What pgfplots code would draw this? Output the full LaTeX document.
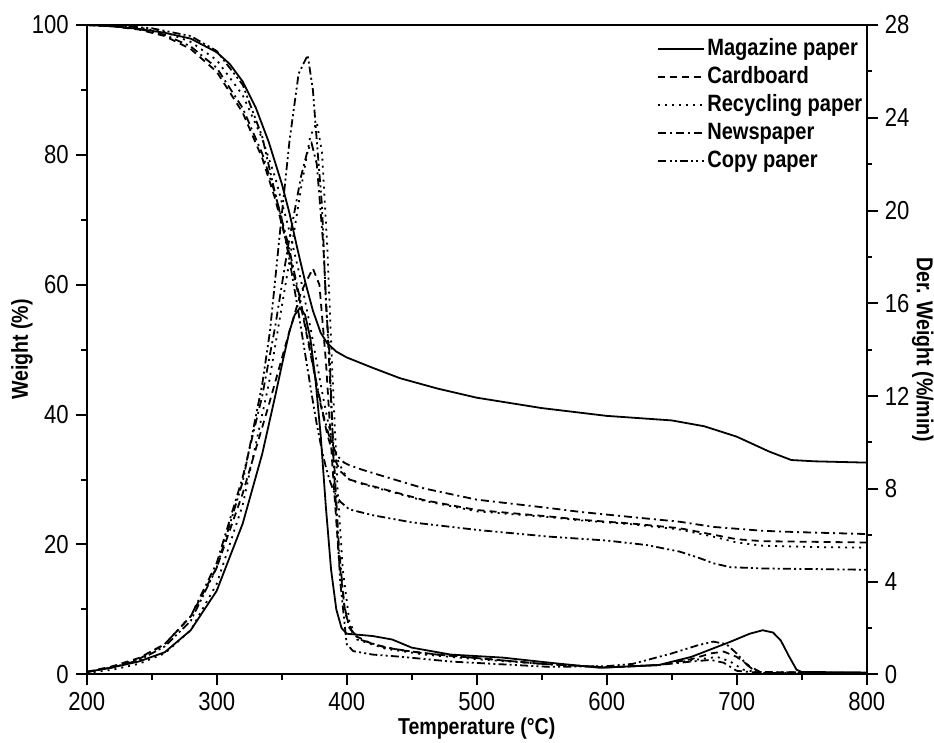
\documentclass[border=0pt]{standalone}
\usepackage{fontspec}
\setmainfont[FakeStretch=0.85]{Liberation Sans}
\usepackage{pgfplots}
\pgfplotsset{compat=1.18}
\begin{document}
\begin{tikzpicture}
\pgfplotsset{
  every axis/.append style={
    scale only axis, width=390pt, height=324.65pt,
    xmin=200, xmax=800,
    axis line style={line width=1pt},
    every tick/.style={line width=1pt, black},
    major tick length=5.5pt, minor tick length=2.75pt,
    tick align=outside,
    /pgf/number format/assume math mode=true,
    tick label style={font=\fontsize{13}{13}\selectfont},
    label style={font=\bfseries\fontsize{11.5}{13}\selectfont},
  },
  every axis plot/.append style={line width=0.9pt, black},
  ds/.style={dash pattern=on 3.5pt off 2.5pt},
  dt/.style={dash pattern=on 1pt off 2.5pt},
  dd/.style={dash pattern=on 4pt off 2pt on 1pt off 2pt},
  ddd/.style={dash pattern=on 4pt off 1.6pt on 1pt off 1.6pt on 1pt off 1.6pt},
}
\begin{axis}[name=ax, ymin=0, ymax=100,
  xtick={200,300,...,800}, minor x tick num=1,
  ytick={0,20,...,100}, minor y tick num=1,
  xtick pos=bottom, ytick pos=left,
  xlabel={Temperature (°C)}, ylabel={Weight (\%)},
  xlabel style={at={(axis description cs:0.5,-0.083)}, anchor=center},
  ylabel style={at={(axis description cs:-0.083,0.5)}, anchor=center},
  legend style={at={(1,1)}, anchor=north east, xshift=2pt, yshift=-3pt, draw=none, fill=none,
    font=\bfseries\fontsize{11.8}{12}\selectfont, row sep=0pt,
    nodes={inner sep=1pt, text height=9pt, text depth=3pt}},
  legend cell align=left,
  legend image code/.code={\draw[#1] (0pt,0pt) -- (23pt,0pt);},
]
% Magazine paper TG
\addplot[solid] coordinates {(200,100) (220,99.8) (240,99.4) (260,98.8) (280,97.9) (300,95.8) (310,94.0) (320,91.3) (330,87.3) (340,82.0) (350,75.6) (356,71) (362,65.6) (368,60.5) (374,56.0) (380,52.6) (385,51.0) (392,49.7) (400,48.8) (420,47.2) (441,45.6) (470,44.0) (500,42.6) (550,41.0) (600,39.8) (650,39.1) (675,38.2) (700,36.6) (725,34.3) (742,33.0) (760,32.8) (800,32.6)};
\addlegendentry{Magazine paper}
% Cardboard TG
\addplot[ds] coordinates {(200,100) (220,99.8) (240,99.3) (260,98.3) (280,96.3) (300,92.8) (320,86.5) (335,79.5) (345,73.2) (355,65.5) (365,56.5) (370,51.5) (375,46.5) (380,41.5) (385,37.0) (390,33.5) (395,31.3) (402,30.0) (412,29.4) (425,28.7) (460,26.8) (500,25.3) (556,24.3) (580,23.8) (620,23.2) (656,22.5) (682,21.5) (700,20.8) (720,20.5) (760,20.4) (800,20.3)};
\addlegendentry{Cardboard}
% Recycling paper TG
\addplot[dt] coordinates {(200,100) (220,99.9) (240,99.6) (260,98.9) (280,97.4) (300,94.6) (320,89.2) (335,82.5) (345,76.5) (355,69.0) (365,60.5) (372,53.5) (377,48.0) (382,42.5) (386,38.5) (390,35.0) (394,32.5) (398,31.0) (402,30.0) (412,29.3) (425,28.6) (460,26.7) (500,25.1) (556,24.2) (580,23.7) (620,23.1) (656,22.3) (682,21.2) (700,20.3) (720,19.8) (760,19.6) (800,19.5)};
\addlegendentry{Recycling paper}
% Newspaper TG
\addplot[dd] coordinates {(200,100) (220,99.8) (240,99.4) (260,98.5) (280,96.7) (300,93.4) (320,87.2) (335,80.2) (345,74.0) (355,66.2) (365,57.0) (370,51.9) (373,48.8) (377,44.6) (382,40.0) (386,37.0) (390,34.8) (394,33.4) (398,32.6) (402,32.2) (412,31.5) (425,30.7) (460,28.6) (500,26.9) (556,25.6) (580,25.0) (620,24.2) (656,23.5) (682,22.7) (720,22.1) (746,21.9) (800,21.6)};
\addlegendentry{Newspaper}
% Copy paper TG
\addplot[ddd] coordinates {(200,100) (230,99.8) (250,99.5) (280,98.3) (300,96.0) (320,90.8) (335,82.8) (345,74.0) (350,69.9) (356,63.8) (363,55.6) (370,46.9) (374,42.0) (377,38.5) (381,34.4) (384,31.9) (387,29.8) (390,28.2) (395,26.6) (402,25.4) (420,24.5) (450,23.4) (502,22.2) (556,21.2) (600,20.6) (631,19.9) (656,18.9) (670,18.0) (682,17.1) (695,16.5) (720,16.3) (800,16.1)};
\addlegendentry{Copy paper}
\end{axis}
\begin{axis}[ymin=0, ymax=28,
  axis x line=none, axis y line*=right,
  ytick={0,4,...,28}, minor y tick num=1,
  ylabel={Der. Weight (\%/min)},
  ylabel style={at={(axis description cs:1.072,0.5)}, anchor=center, rotate=180},
]
% Magazine DTG
\addplot[solid] coordinates {(200,0.1) (220,0.3) (240,0.55) (260,0.95) (280,1.9) (300,3.6) (320,6.5) (335,9.5) (345,12.0) (350,13.3) (356,14.8) (360,15.5) (364,15.8) (368,15.5) (372,14.5) (376,12.7) (380,10.3) (384,7.2) (388,4.5) (392,2.8) (396,2.0) (400,1.75) (420,1.65) (435,1.5) (450,1.15) (480,0.85) (520,0.72) (556,0.5) (595,0.28) (640,0.4) (665,0.75) (695,1.4) (710,1.75) (720,1.9) (728,1.8) (734,1.45) (740,0.8) (746,0.2) (750,0.1) (800,0.08)};
% Cardboard DTG
\addplot[ds] coordinates {(200,0.1) (220,0.35) (240,0.7) (260,1.3) (280,2.5) (300,4.6) (320,7.8) (340,11.6) (355,14.6) (365,16.5) (374,17.5) (379,16.8) (384,13.5) (389,9.0) (394,5.0) (399,2.6) (405,1.7) (420,1.3) (440,1.05) (470,0.85) (500,0.7) (550,0.45) (600,0.3) (640,0.4) (665,0.65) (680,0.9) (690,0.98) (700,0.75) (710,0.35) (718,0.1) (800,0.05)};
% Recycling DTG
\addplot[dt] coordinates {(200,0.05) (220,0.2) (240,0.45) (260,0.9) (280,1.9) (300,3.9) (320,7.3) (340,12.5) (355,17.5) (365,21.0) (372,23.2) (377,23.8) (381,22.5) (385,18.5) (389,13.0) (393,8.0) (397,4.5) (402,2.3) (408,1.5) (430,1.1) (460,0.85) (500,0.65) (550,0.45) (600,0.3) (640,0.4) (665,0.6) (685,0.75) (695,0.55) (705,0.2) (720,0.05) (800,0.05)};
% Newspaper DTG
\addplot[dd] coordinates {(200,0.1) (220,0.3) (240,0.65) (260,1.3) (280,2.5) (300,4.8) (320,8.5) (335,12.0) (345,15.0) (355,18.5) (365,21.5) (370,22.6) (373,22.9) (377,22.0) (382,18.5) (386,14) (390,9.5) (394,5.5) (398,3.0) (402,2.0) (410,1.5) (430,1.15) (460,0.9) (500,0.7) (550,0.45) (600,0.3) (640,0.4) (665,0.55) (680,0.62) (690,0.5) (700,0.15) (720,0.05) (800,0.05)};
% Copy paper DTG
\addplot[ddd] coordinates {(200,0.1) (220,0.3) (240,0.6) (260,1.2) (280,2.3) (300,4.6) (320,8.3) (335,12.5) (341,14.8) (350,19.8) (356,23.0) (363,25.9) (370,26.7) (374,25.2) (377,23.0) (381,20.2) (384,16.0) (387,13.6) (390,9.0) (395,4.0) (400,1.3) (405,1.0) (420,0.85) (441,0.76) (480,0.55) (556,0.32) (600,0.35) (620,0.45) (650,0.9) (670,1.25) (682,1.41) (692,1.3) (700,0.9) (708,0.4) (715,0.1) (800,0.05)};
\end{axis}
\pgfresetboundingbox
\path ([shift={(-43.35pt,-33.85pt)}]ax.south west) rectangle ([shift={(33.65pt,12.5pt)}]ax.north east);
\end{tikzpicture}
\end{document}
